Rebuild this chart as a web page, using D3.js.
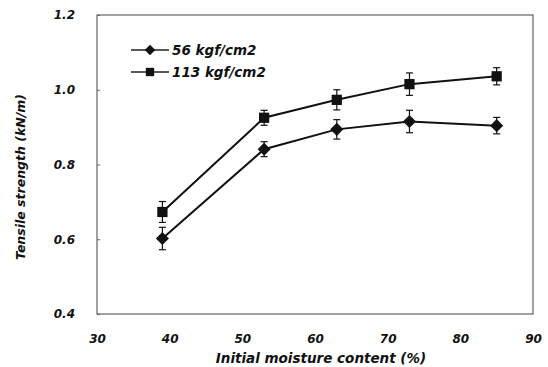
<!DOCTYPE html>
<html>
<head>
<meta charset="utf-8">
<script src="https://cdn.jsdelivr.net/npm/d3@7"></script>
<style>
  body { margin: 0; background: #fff; }
  text { font-family: "DejaVu Sans", "Liberation Sans", sans-serif; font-weight: bold; font-style: italic; fill: #111; }
</style>
</head>
<body>
<script>
// Chart size
const w = 548;
const h = 367;

// Plot area edges
const plotLeft = 97, plotRight = 533, plotTop = 15, plotBottom = 314;

// Data
const moisture = [39, 53, 63, 73, 85];
const strength56 = [0.602, 0.841, 0.894, 0.915, 0.904];
const error56 = [0.03, 0.02, 0.026, 0.03, 0.022];
const strength113 = [0.673, 0.925, 0.973, 1.015, 1.036];
const error113 = [0.028, 0.02, 0.027, 0.03, 0.023];
const seriesNames = ["56 kgf/cm2", "113 kgf/cm2"];
const xTicks = [30, 40, 50, 60, 70, 80, 90];
const yTicks = [0.4, 0.6, 0.8, 1.0, 1.2];

const svg = d3.select("body").append("svg").attr("width", w).attr("height", h);

// Scales
const xScale = d3.scaleLinear().domain([30, 90]).range([plotLeft, plotRight]);
const yScale = d3.scaleLinear().domain([0.4, 1.2]).range([plotBottom, plotTop]);

// Frame
svg.append("rect")
  .attr("x", plotLeft).attr("y", plotTop)
  .attr("width", plotRight - plotLeft).attr("height", plotBottom - plotTop)
  .attr("fill", "none").attr("stroke", "#444").attr("stroke-width", 1);

// Y axis (small inward ticks)
const yAxis = d3.axisLeft(yScale).tickValues(yTicks).tickSize(-3)
  .tickFormat(d3.format(".1f"));
const gy = svg.append("g").attr("transform", "translate(" + plotLeft + ",0)").call(yAxis);
gy.select(".domain").remove();
gy.selectAll("line").attr("stroke", "#666");
gy.selectAll("text").attr("x", -22).attr("font-size", 12).style("fill", "#111");

// X axis (labels only)
const xAxis = d3.axisBottom(xScale).tickValues(xTicks).tickSize(0);
const gx = svg.append("g").attr("transform", "translate(0," + plotBottom + ")").call(xAxis);
gx.select(".domain").remove();
gx.selectAll("text").attr("y", 20).attr("font-size", 12).style("fill", "#111");

// Axis titles
svg.append("text")
  .attr("x", 321).attr("y", 363)
  .attr("text-anchor", "middle").attr("font-size", 13.5)
  .text("Initial moisture content (%)");

svg.append("text")
  .attr("transform", "translate(25,177) rotate(-90)")
  .attr("text-anchor", "middle").attr("font-size", 12.5)
  .text("Tensile strength (kN/m)");

// Series
const series = [
  { name: seriesNames[0], values: strength56, errors: error56, rot: 45, size: 85, legSize: 55 },
  { name: seriesNames[1], values: strength113, errors: error113, rot: 0, size: 105, legSize: 70 }
];

const line = d3.line()
  .x(d => xScale(d[0]))
  .y(d => yScale(d[1]));

series.forEach(s => {
  const pts = moisture.map((m, i) => [m, s.values[i], s.errors[i]]);

  svg.append("path")
    .datum(pts)
    .attr("d", line)
    .attr("fill", "none").attr("stroke", "#111").attr("stroke-width", 2);

  // Error bars
  const eb = svg.append("g").selectAll("g").data(pts).enter().append("g");
  eb.append("line")
    .attr("x1", d => xScale(d[0])).attr("x2", d => xScale(d[0]))
    .attr("y1", d => yScale(d[1] + d[2])).attr("y2", d => yScale(d[1] - d[2]))
    .attr("stroke", "#111").attr("stroke-width", 1.2);
  [1, -1].forEach(sign => {
    eb.append("line")
      .attr("x1", d => xScale(d[0]) - 3.5).attr("x2", d => xScale(d[0]) + 3.5)
      .attr("y1", d => yScale(d[1] + sign * d[2])).attr("y2", d => yScale(d[1] + sign * d[2]))
      .attr("stroke", "#111").attr("stroke-width", 1.2);
  });

  // Markers (diamond = square turned 45 degrees)
  svg.append("g").selectAll("path").data(pts).enter().append("path")
    .attr("d", d3.symbol().type(d3.symbolSquare).size(s.size))
    .attr("transform", d => "translate(" + xScale(d[0]) + "," + yScale(d[1]) + ") rotate(" + s.rot + ")")
    .attr("fill", "#111");
});

// Legend
const legend = svg.append("g");
series.forEach((s, i) => {
  const ly = 50 + i * 22;
  legend.append("line")
    .attr("x1", 131).attr("x2", 169).attr("y1", ly).attr("y2", ly)
    .attr("stroke", "#222").attr("stroke-width", 1.5);
  legend.append("path")
    .attr("d", d3.symbol().type(d3.symbolSquare).size(s.legSize))
    .attr("transform", "translate(150," + ly + ") rotate(" + s.rot + ")")
    .attr("fill", "#111");
  legend.append("text")
    .attr("x", 172).attr("y", ly + 5)
    .attr("font-size", 13.5)
    .text(s.name);
});
</script>
</body>
</html>
